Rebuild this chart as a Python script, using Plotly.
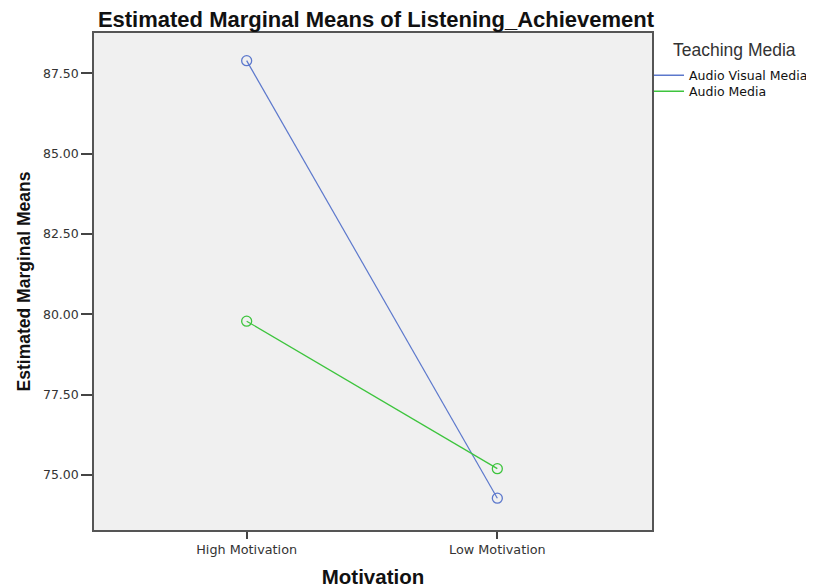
import plotly.graph_objects as go

categories = ["High Motivation", "Low Motivation"]
series_names = ["Audio Visual Media", "Audio Media"]
audio_visual = [87.90, 74.28]
audio_only = [79.79, 75.20]
y_ticks = [75.0, 77.5, 80.0, 82.5, 85.0, 87.5]
y_tick_labels = ["75.00", "77.50", "80.00", "82.50", "85.00", "87.50"]

colors = ["#5C78CC", "#3DC43D"]
values = [audio_visual, audio_only]
legend_ids = ["legend", "legend2"]

fig = go.Figure()
for name, vals, col in zip(series_names, values, colors):
    fig.add_trace(go.Scatter(
        x=[0, 1], y=vals, mode="lines+markers", showlegend=False,
        line=dict(color=col, width=1.2),
        marker=dict(symbol="circle-open", size=10, color=col, line=dict(width=1.3)),
        hoverinfo="skip"))
for name, col, lg in zip(series_names, colors, legend_ids):
    fig.add_trace(go.Scatter(
        x=[None], y=[None], mode="lines", name=name, legend=lg,
        line=dict(color=col, width=1.5)))

# page body keeps its 8px margin; positions below are screen pixels shifted by OFF
OFF = 8
W, H = 814 - OFF, 588 - OFF
L, R, T, B = 94 - OFF, 652 - OFF, 33 - OFF, 530 - OFF
PW, PH = R - L, B - T
SANS = "DejaVu Sans, Verdana, sans-serif"
ARIAL = "Liberation Sans, Arial, sans-serif"

def px_x(p):
    return (p - OFF - L) / PW

def px_y(p):
    return 1 - (p - OFF - T) / PH

legend_common = dict(xanchor="left", yanchor="middle", bgcolor="rgba(0,0,0,0)",
                     font=dict(size=12.5, family=SANS, color="#111111"),
                     itemwidth=30, borderwidth=0)

fig.update_layout(
    width=W, height=H,
    margin=dict(l=L, r=W - R, t=T, b=H - B, pad=0, autoexpand=False),
    paper_bgcolor="white", plot_bgcolor="#F0F0F0",
    font=dict(family=ARIAL, color="#222222"),
    title=dict(text="<b>Estimated Marginal Means of Listening_Achievement</b>",
               x=(376 - OFF) / W, xanchor="center", y=1 - (19 - OFF) / H, yanchor="middle",
               font=dict(size=22, family=ARIAL, color="#111111")),
    showlegend=True,
    legend=dict(x=px_x(649), y=px_y(75.5), **legend_common),
    legend2=dict(x=px_x(649), y=px_y(91.5), **legend_common),
    annotations=[dict(text="Teaching Media", xref="paper", yref="paper",
                      x=px_x(734), xanchor="center",
                      y=px_y(50), yanchor="middle",
                      showarrow=False, font=dict(size=17.5, family=ARIAL, color="#333333"))],
)
fig.update_xaxes(
    tickmode="array", tickvals=[0, 1], ticktext=categories,
    range=[-0.609, 1.617], showgrid=False, zeroline=False, automargin=False,
    ticks="outside", ticklen=7, tickwidth=1.5, tickcolor="#444444",
    showline=True, linecolor="#555555", linewidth=1.5, mirror=True,
    tickfont=dict(size=12.8, family=SANS, color="#333333"),
    title=dict(text="<b>Motivation</b>", font=dict(size=20.5, family=ARIAL, color="#111111"), standoff=23))
fig.update_yaxes(
    tickmode="array", tickvals=y_ticks, ticktext=y_tick_labels,
    range=[73.29, 88.76], showgrid=False, zeroline=False, automargin=False,
    ticks="outside", ticklen=11, tickwidth=1.5, tickcolor="#444444",
    showline=True, linecolor="#555555", linewidth=1.5, mirror=True,
    tickfont=dict(size=12.5, family=SANS, color="#333333"),
    title=dict(text="<b>Estimated Marginal Means</b>", font=dict(size=17.5, family=ARIAL, color="#111111"), standoff=8))

fig.write_html("out.html", config={"displayModeBar": False})
